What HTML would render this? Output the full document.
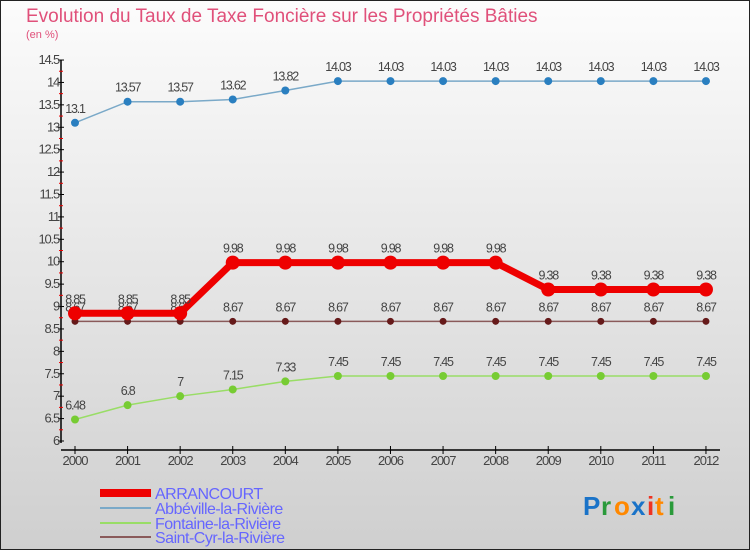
<!DOCTYPE html>
<html><head><meta charset="utf-8"><style>
body{margin:0}
svg text{font-family:"Liberation Sans",sans-serif}
</style></head><body>
<svg id="c" width="750" height="550" xmlns="http://www.w3.org/2000/svg">
<defs><linearGradient id="bg" x1="0" y1="0" x2="0" y2="1"><stop offset="0" stop-color="#fcfcfc"/><stop offset="1" stop-color="#cfcfcf"/></linearGradient></defs>
<rect x="0.5" y="0.5" width="749" height="549" fill="url(#bg)" stroke="#222"/>
<text x="26" y="22" font-size="19" fill="#e0507a">Evolution du Taux de Taxe Foncière sur les Propriétés Bâties</text>
<text x="26" y="38" font-size="11" fill="#e0507a">(en %)</text>
<g id="axes"></g><g id="series"></g>
<g>
<rect x="100" y="489" width="51" height="8" fill="#e00"/>
<text x="155" y="499" font-size="16" fill="#6666ff" letter-spacing="-0.5">ARRANCOURT</text>
<line x1="100" y1="508" x2="151" y2="508" stroke="#7aa9c8" stroke-width="2"/>
<text x="155" y="514" font-size="16" fill="#6666ff" letter-spacing="-0.5">Abbéville-la-Rivière</text>
<line x1="100" y1="523" x2="151" y2="523" stroke="#99dd66" stroke-width="2"/>
<text x="155" y="529" font-size="16" fill="#6666ff" letter-spacing="-0.5">Fontaine-la-Rivière</text>
<line x1="100" y1="537" x2="151" y2="537" stroke="#8a5a5a" stroke-width="2"/>
<text x="155" y="543" font-size="16" fill="#6666ff" letter-spacing="-0.5">Saint-Cyr-la-Rivière</text>
</g>
<g font-size="26" font-weight="bold">
<text x="583" y="515" fill="#1a73c8">P</text><text x="601" y="515" fill="#2a9a3a">r</text><text x="614" y="515" fill="#ff8800">o</text><text x="631" y="515" fill="#1a73c8">x</text><text x="647" y="515" fill="#ee3322">i</text><text x="655" y="515" fill="#ff8800">t</text><text x="668" y="515" fill="#2a9a3a">i</text>
</g>
</svg>
<script>
const years=[2000,2001,2002,2003,2004,2005,2006,2007,2008,2009,2010,2011,2012];
const arrancourt=[8.85,8.85,8.85,9.98,9.98,9.98,9.98,9.98,9.98,9.38,9.38,9.38,9.38];
const abbeville=[13.1,13.57,13.57,13.62,13.82,14.03,14.03,14.03,14.03,14.03,14.03,14.03,14.03];
const fontaine=[6.48,6.8,7,7.15,7.33,7.45,7.45,7.45,7.45,7.45,7.45,7.45,7.45];
const saintcyr=[8.67,8.67,8.67,8.67,8.67,8.67,8.67,8.67,8.67,8.67,8.67,8.67,8.67];
const yTicks=[6,6.5,7,7.5,8,8.5,9,9.5,10,10.5,11,11.5,12,12.5,13,13.5,14,14.5];
const NS="http://www.w3.org/2000/svg";
const X=i=>75+i*52.58;
const Y=v=>441-(v-6)*44.82;
function mk(t,a,p){const e=document.createElementNS(NS,t);for(const k in a)e.setAttribute(k,a[k]);p.appendChild(e);return e;}
const ax=document.getElementById('axes');
const yl=mk('line',{x1:61,y1:60,x2:61,y2:443,stroke:'#000','stroke-width':1.5},ax);


const xl=mk('line',{x1:61,y1:450,x2:720,y2:450,stroke:'#000','stroke-width':1.5},ax);


yTicks.forEach(v=>{
 mk('line',{x1:58,y1:Y(v),x2:64,y2:Y(v),stroke:'#000'},ax);
 if(v<14.5) mk('line',{x1:59,y1:Y(v+0.25),x2:63,y2:Y(v+0.25),stroke:'#e00'},ax);
 const t=mk('text',{x:59,y:Y(v)+4,'text-anchor':'end','font-size':13,fill:'#444','letter-spacing':-1.2},ax);
 t.textContent=String(v);
 
 
});
years.forEach((yr,i)=>{
 mk('line',{x1:X(i),y1:446,x2:X(i),y2:454,stroke:'#000'},ax);
 const t=mk('text',{x:X(i),y:465,'text-anchor':'middle','font-size':13,fill:'#444','letter-spacing':-1},ax);
 t.textContent=yr;
 
 
});
const sg=document.getElementById('series');
function series(vals,color,dot,w,r,name){
 const g=mk('g',{},sg);
 
 
 mk('polyline',{points:vals.map((v,i)=>X(i)+','+Y(v)).join(' '),fill:'none',stroke:color,'stroke-width':w},g);
 vals.forEach((v,i)=>{
  const c=mk('circle',{cx:X(i),cy:Y(v),r:r,fill:dot},g);
  
  
  const t=mk('text',{x:X(i),y:Y(v)-10,'text-anchor':'middle','font-size':12.5,fill:'#444','letter-spacing':-1.2},g);
  t.textContent=String(v);
  
  
 });
}
series(abbeville,'#7aa9c8','#2a7fc0',1.5,4,'abbeville-series');
series(fontaine,'#99dd66','#77cc33',1.5,4,'fontaine-series');
series(saintcyr,'#8a5a5a','#661a1a',1.5,3.5,'saint-cyr-series');
series(arrancourt,'#e00','#e00',7,7,'arrancourt-series');
</script>
</body></html>
